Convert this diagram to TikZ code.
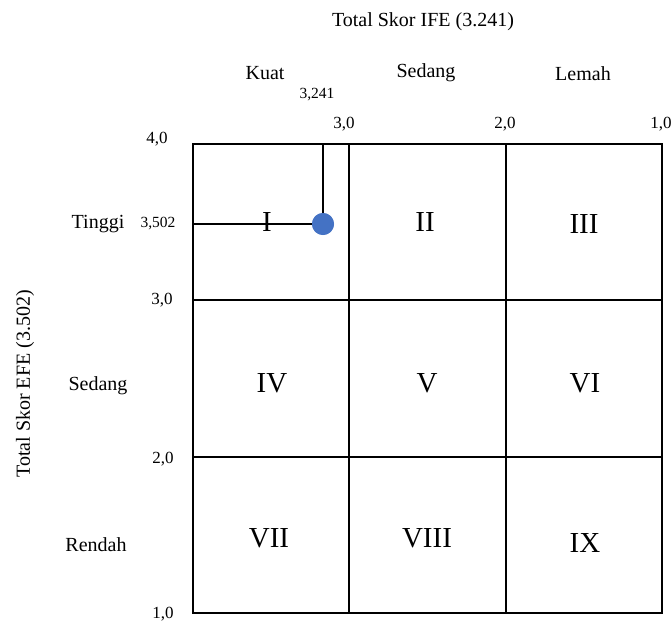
\documentclass[tikz,border=0pt]{standalone}
\usepackage{fontspec}
\setmainfont{Liberation Serif}
\definecolor{dotblue}{HTML}{4472C4}
\begin{document}
\begin{tikzpicture}[x=1pt,y=-1pt,
  lbl/.style={inner sep=0pt,font=\fontsize{20}{22}\selectfont},
  num/.style={inner sep=0pt,font=\fontsize{17}{19}\selectfont},
  snum/.style={inner sep=0pt,font=\fontsize{15.5}{17}\selectfont},
  roman/.style={inner sep=0pt,font=\fontsize{29}{31}\selectfont},
  gridline/.style={line width=1.6pt},
  marker/.style={line width=1.4pt}]
\useasboundingbox (0,0) rectangle (672,624);
% grid
\draw[gridline] (193,144) rectangle (662,613);
\draw[gridline] (349,144) -- (349,613);
\draw[gridline] (506,144) -- (506,613);
\draw[gridline] (193,300) -- (662,300);
\draw[gridline] (193,457) -- (662,457);
% titles
\node[lbl] (ttop) at (423,22) {Total Skor IFE (3.241)};
\node[lbl,rotate=90] (tleft) at (25,384) {Total Skor EFE (3.502)};
% column headers
\node[lbl] (kuat) at (265,73) {Kuat};
\node[lbl] (sedangc) at (426,73) {Sedang};
\node[lbl] (lemah) at (583,74) {Lemah};
\node[snum] (v3241) at (317,95) {3,241};
\node[num] (x30) at (344,124) {3,0};
\node[num] (x20) at (505,124) {2,0};
\node[num] (x10) at (661,124) {1,0};
% row labels
\node[num] (y40) at (157,139) {4,0};
\node[num] (y30) at (162,300) {3,0};
\node[num] (y20) at (163,459) {2,0};
\node[num] (y10) at (163,614) {1,0};
\node[lbl] (tinggi) at (98,224) {Tinggi};
\node[snum] (v3502) at (158,224) {3,502};
\node[lbl] (sedangr) at (98,386) {Sedang};
\node[lbl] (rendah) at (96,545) {Rendah};
% position marker
\coordinate (mleft) at (193,224);
\coordinate (mtop) at (323,144);
\node[circle,fill=dotblue,minimum size=22pt,inner sep=0pt] (dot) at (323,224) {};
\draw[marker] (mleft) -- (dot.center);
\draw[marker] (mtop) -- (dot.center);
\node[circle,fill=dotblue,minimum size=22pt,inner sep=0pt] at (dot.center) {};
% cell numerals
\node[roman] (c1) at (267,222) {I};
\node[roman] (c2) at (425,222) {II};
\node[roman] (c3) at (584,224) {III};
\node[roman] (c4) at (272,383) {IV};
\node[roman] (c5) at (427,383) {V};
\node[roman] (c6) at (585,383) {VI};
\node[roman] (c7) at (269,538) {VII};
\node[roman] (c8) at (427,538) {VIII};
\node[roman] (c9) at (585,543) {IX};
\end{tikzpicture}
\end{document}
